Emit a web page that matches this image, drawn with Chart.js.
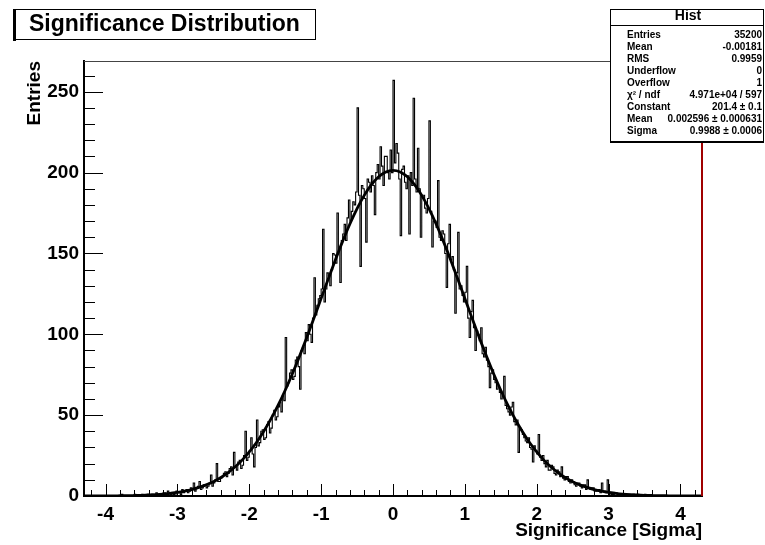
<!DOCTYPE html>
<html>
<head>
<meta charset="utf-8">
<title>Significance Distribution</title>
<script src="https://cdn.jsdelivr.net/npm/chart.js@4.4.1/dist/chart.umd.min.js"></script>
<style>
  html, body { margin: 0; padding: 0; background: #fff; }
  canvas { display: block; }
</style>
</head>
<body>
<canvas id="hist" width="765" height="545"></canvas>
<script>
// histogram range and binning (430 bins of 0.02)
const xMin = -4.3;
const xMax = 4.3;
const binWidth = 0.02;
const binCounts = [
  0, 0, 0, 0, 0, 0, 0, 0, 0, 0, 0, 0, 0, 0, 0, 0, 0, 0, 0, 0,
  0, 0, 0, 0, 0, 0, 1, 0, 0, 0, 0, 0, 0, 0, 0, 1, 0, 0, 0, 0,
  1, 0, 0, 0, 1, 0, 0, 1, 0, 0, 2, 1, 1, 0, 1, 2, 2, 1, 3, 2,
  1, 2, 1, 0, 3, 2, 2, 1, 4, 2, 3, 4, 2, 3, 5, 4, 8, 3, 5, 6,
  9, 4, 5, 7, 7, 5, 6, 8, 13, 6, 8, 10, 20, 9, 9, 11, 12, 14, 15, 12,
  14, 17, 18, 13, 27, 18, 16, 21, 22, 17, 19, 25, 40, 22, 24, 28, 36, 26, 18, 30,
  47, 31, 33, 40, 41, 35, 36, 44, 46, 39, 42, 50, 53, 47, 49, 55, 58, 52, 62, 59,
  98, 68, 70, 76, 78, 72, 74, 84, 86, 80, 66, 90, 92, 88, 101, 96, 106, 100, 95, 110,
  135, 112, 118, 122, 124, 128, 165, 120, 128, 138, 136, 130, 140, 150, 149, 144, 175, 152, 132, 158,
  162, 168, 158, 172, 183, 170, 176, 182, 180, 188, 240, 186, 142, 192, 190, 184, 157, 196, 194, 188,
  198, 192, 174, 200, 205, 196, 216, 204, 192, 210, 210, 200, 196, 214, 200, 257, 206, 218, 212, 196,
  161, 202, 204, 194, 190, 198, 162, 200, 192, 246, 196, 188, 215, 190, 160, 186, 186, 178, 175, 184,
  232, 176, 154, 170, 170, 166, 195, 160, 158, 164, 162, 150, 129, 156, 168, 146, 148, 140, 113, 138,
  163, 128, 130, 124, 120, 126, 142, 110, 98, 114, 121, 104, 90, 102, 100, 96, 104, 88, 86, 92,
  84, 80, 67, 76, 78, 72, 70, 66, 68, 64, 60, 62, 74, 56, 54, 52, 50, 55, 58, 46,
  44, 47, 27, 42, 41, 38, 36, 34, 33, 36, 30, 29, 21, 31, 28, 26, 38, 24, 22, 25,
  20, 18, 22, 16, 16, 19, 18, 14, 13, 16, 15, 12, 18, 11, 10, 12, 12, 9, 8, 10,
  9, 7, 6, 8, 8, 6, 5, 7, 7, 4, 10, 5, 4, 5, 5, 3, 3, 4, 4, 2,
  8, 3, 3, 2, 10, 1, 2, 1, 1, 2, 2, 1, 1, 0, 0, 1, 1, 0, 1, 1,
  0, 0, 1, 0, 0, 1, 0, 0, 0, 0, 1, 0, 0, 0, 0, 0, 0, 0, 0, 0,
  0, 0, 0, 0, 0, 0, 0, 0, 0, 0, 0, 0, 0, 0, 0, 0, 0, 0, 0, 0,
  0, 0, 0, 0, 0, 0, 0, 0, 0, 0
];

// gaussian fit curve, read every 0.1 from -4.3 to 4.3
const fitStep = 0.1;
const fitValues = [
  0.02, 0.03, 0.05, 0.07, 0.1, 0.15, 0.2, 0.31, 0.44, 0.62,
  0.87, 1.2, 1.65, 2.2, 3.0, 4.0, 5.3, 6.9, 8.85, 11.3,
  14.3, 17.9, 22.2, 27.3, 33.1, 39.9, 47.5, 56.0, 65.4, 75.6,
  86.5, 98.0, 110.0, 122.2, 134.3, 146.2, 157.6, 168.2, 177.7, 185.9,
  192.5, 197.4, 200.4, 201.4, 200.4, 197.4, 192.5, 185.9, 177.7, 168.2,
  157.6, 146.2, 134.3, 122.2, 110.0, 98.0, 86.5, 75.6, 65.4, 56.0,
  47.5, 39.9, 33.1, 27.3, 22.2, 17.9, 14.3, 11.3, 8.85, 6.9,
  5.3, 4.0, 3.0, 2.2, 1.65, 1.2, 0.87, 0.62, 0.44, 0.31,
  0.2, 0.15, 0.1, 0.07, 0.05, 0.03, 0.02
];

const xTickValues = [-4, -3, -2, -1, 0, 1, 2, 3, 4];
const xMinorStep = 0.2;
const yTickValues = [0, 50, 100, 150, 200, 250];
const yMinorStep = 10;
const yMax = 269;

const statLabels = ['Entries', 'Mean', 'RMS', 'Underflow', 'Overflow', 'χ² / ndf', 'Constant', 'Mean', 'Sigma'];
const statValues = ['35200', '-0.00181', '0.9959', '0', '1', '4.971e+04 / 597', '201.4 ± 0.1', '0.002596 ± 0.000631', '0.9988 ± 0.0006'];

const FONT = "'Liberation Sans', Arial, Helvetica, sans-serif";
Chart.defaults.font.family = FONT;
Chart.defaults.color = '#000';

const histPoints = binCounts.map((c, i) => ({ x: xMin + (i + 0.5) * binWidth, y: c }));
const fitPoints = fitValues.map((v, i) => ({ x: xMin + i * fitStep, y: v }));

// ROOT style: ticks inside the frame, title pave and stats box
const rootFrame = {
  id: 'rootFrame',
  afterDatasetsDraw(chart) {
    const { ctx, chartArea: a, scales: { x, y } } = chart;
    ctx.save();
    ctx.strokeStyle = '#000';
    ctx.lineWidth = 1;
    ctx.beginPath();
    for (let v = 0; v <= yMax; v += yMinorStep) {
      const py = Math.round(y.getPixelForValue(v)) + 0.5;
      const len = v % 50 === 0 ? 19 : 11;
      ctx.moveTo(a.left, py);
      ctx.lineTo(a.left + len, py);
    }
    const kMin = Math.ceil(xMin / xMinorStep);
    const kMax = Math.floor(xMax / xMinorStep);
    for (let k = kMin; k <= kMax; k++) {
      const px = Math.round(x.getPixelForValue(k * xMinorStep)) + 0.5;
      const len = k % 5 === 0 ? 12 : 6;
      ctx.moveTo(px, a.bottom);
      ctx.lineTo(px, a.bottom - len);
    }
    ctx.stroke();

    // top frame line
    ctx.strokeStyle = '#444';
    ctx.beginPath();
    ctx.moveTo(a.left, a.top + 0.5);
    ctx.lineTo(a.right, a.top + 0.5);
    ctx.stroke();
    // right frame in red
    ctx.strokeStyle = '#a00000';
    ctx.lineWidth = 2;
    ctx.beginPath();
    ctx.moveTo(a.right, a.top);
    ctx.lineTo(a.right, a.bottom);
    ctx.stroke();
    ctx.restore();
  },
  afterDraw(chart) {
    const { ctx } = chart;
    ctx.save();
    // title pave
    ctx.fillStyle = '#fff';
    ctx.fillRect(13, 9, 303, 31);
    ctx.strokeStyle = '#000';
    ctx.lineWidth = 1;
    ctx.strokeRect(13.5, 9.5, 302, 30);
    ctx.fillStyle = '#000';
    ctx.fillRect(13, 9, 3, 32);
    ctx.font = 'bold 23px ' + FONT;
    ctx.textBaseline = 'alphabetic';
    ctx.textAlign = 'left';
    ctx.fillText('Significance Distribution', 29, 31);

    // stats box
    const bx = 610, by = 9, bw = 154, bh = 132;
    ctx.fillStyle = '#fff';
    ctx.fillRect(bx, by, bw, bh);
    ctx.strokeStyle = '#000';
    ctx.strokeRect(bx + 0.5, by + 0.5, bw - 1, bh);
    ctx.fillStyle = '#000';
    ctx.fillRect(bx, by + bh, bw, 2);
    ctx.beginPath();
    ctx.moveTo(bx, 25.5);
    ctx.lineTo(bx + bw, 25.5);
    ctx.stroke();
    ctx.font = 'bold 14px ' + FONT;
    ctx.textAlign = 'center';
    ctx.textBaseline = 'middle';
    ctx.fillText('Hist', 688, 16);
    ctx.font = 'bold 10px ' + FONT;
    statLabels.forEach((lab, i) => {
      const ty = 35 + i * 12;
      ctx.textAlign = 'left';
      ctx.fillText(lab, 627, ty);
      ctx.textAlign = 'right';
      ctx.fillText(statValues[i], 762, ty);
    });
    ctx.restore();
  }
};

new Chart(document.getElementById('hist'), {
  type: 'line',
  data: {
    datasets: [
      {
        data: histPoints,
        borderColor: '#000',
        borderWidth: 1.1,
        stepped: 'middle',
        pointRadius: 0,
        fill: false
      },
      {
        data: fitPoints,
        borderColor: '#000',
        borderWidth: 2.8,
        cubicInterpolationMode: 'monotone',
        pointRadius: 0,
        fill: false
      }
    ]
  },
  options: {
    responsive: false,
    animation: false,
    devicePixelRatio: 1,
    layout: { padding: { top: 61, right: 63, left: 0, bottom: 0 } },
    plugins: { legend: { display: false }, tooltip: { enabled: false } },
    scales: {
      x: {
        type: 'linear',
        min: xMin,
        max: xMax,
        grid: { display: false, drawTicks: false },
        border: { display: true, color: '#000', width: 2 },
        ticks: {
          color: '#000',
          font: { size: 19, weight: 'bold' },
          padding: 7,
          maxRotation: 0,
          callback: v => String(v)
        },
        afterBuildTicks: s => { s.ticks = xTickValues.map(v => ({ value: v })); },
        afterFit: s => { s.height = 49; },
        title: {
          display: true,
          text: 'Significance [Sigma]',
          align: 'end',
          color: '#000',
          font: { size: 19, weight: 'bold' },
          padding: { top: 0, bottom: 3 }
        }
      },
      y: {
        min: 0,
        max: yMax,
        grid: { display: false, drawTicks: false },
        border: { display: true, color: '#000', width: 2 },
        ticks: {
          color: '#000',
          font: { size: 19, weight: 'bold' },
          padding: 5,
          callback: v => String(v)
        },
        afterBuildTicks: s => { s.ticks = yTickValues.map(v => ({ value: v })); },
        afterFit: s => { s.width = 84; },
        title: {
          display: true,
          text: 'Entries',
          align: 'end',
          color: '#000',
          font: { size: 19, weight: 'bold' },
          padding: { top: 23, bottom: 0 }
        }
      }
    }
  },
  plugins: [rootFrame]
});
</script>
</body>
</html>
